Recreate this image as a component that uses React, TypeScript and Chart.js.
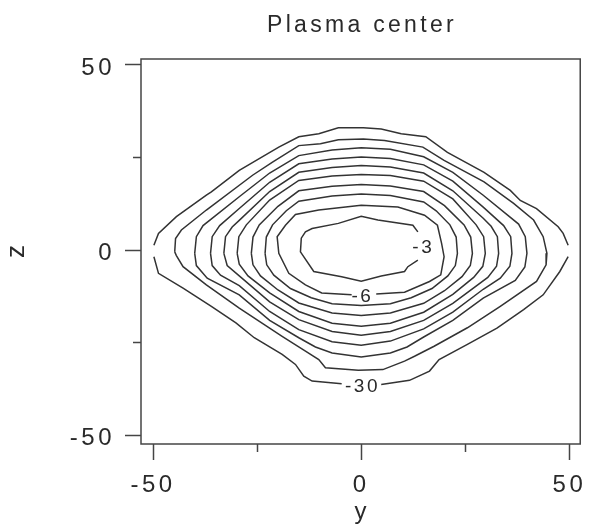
import React, { useEffect, useRef } from 'react';
import { Chart, registerables } from 'chart.js';

Chart.register(...registerables);

const chartTitle = 'Plasma center';
const xAxisTitle = 'y';
const yAxisTitle = 'z';
const tickValues = [-50, -25, 0, 25, 50];
const labeledTicks = [-50, 0, 50];
const levels = [-3, -6, -9, -12, -15, -18, -21, -24, -27, -30];

type P = [number, number] | null;

// contour polylines as [y, z] pairs (null = gap for a label)
const c3: P[] = [[13.6, -2.7], [11.2, -4.5], [10.4, -5.8], [4.8, -7.0], [0, -8.4], [-4.7, -7.2], [-11.4, -5.8], [-14.6, -0.5], [-14.4, 3.2], [-13.4, 4.9], [-11.8, 5.8], [-5.5, 7.2], [0, 9.1], [4.0, 8.1], [12.4, 6.7], [13.6, 4.9]];
const c6: P[] = [[3.6, -11.9], [10.4, -11.4], [16.4, -8.5], [19.1, -6.7], [19.9, -1.8], [19.3, 1.8], [18.3, 6.7], [15.2, 9.4], [8.8, 11.6], [0, 12.1], [-10.2, 10.8], [-15.8, 9.6], [-18.2, 6.7], [-20.2, 3.6], [-19.8, -0.9], [-17.4, -6.3], [-13.4, -9.4], [-9.5, -11.6], [-2.3, -12.1]];
const c9: P[] = [[-23.1, -0.9], [-22.8, 3.5], [-21.3, 6.8], [-18.0, 10.6], [-15.0, 13.2], [-7.0, 14.6], [0, 15.1], [7.0, 14.7], [15.0, 13.0], [18.0, 10.6], [21.3, 6.8], [22.8, 3.5], [23.1, -0.9], [22.6, -4.2], [20.8, -7.0], [17.0, -10.4], [12.0, -12.9], [7.0, -14.5], [0, -15.0], [-7.0, -14.5], [-12.0, -12.9], [-17.0, -10.4], [-21.0, -6.8], [-22.7, -4.0], [-23.1, -0.9]];
const c12: P[] = [[-26.4, -0.9], [-26.0, 3.5], [-24.5, 6.8], [-20.0, 11.8], [-15.0, 16.0], [-7.0, 17.2], [0, 17.7], [7.0, 17.3], [15.0, 15.8], [20.0, 12.0], [24.7, 6.8], [26.3, 3.5], [26.7, -0.9], [26.2, -4.2], [24.2, -7.2], [20.0, -11.0], [15.0, -14.4], [7.0, -17.0], [0, -17.7], [-7.0, -17.0], [-15.0, -14.3], [-20.0, -10.8], [-24.2, -7.0], [-26.0, -4.0], [-26.4, -0.9]];
const c15: P[] = [[-29.8, -0.9], [-29.4, 3.6], [-27.6, 6.8], [-22.0, 13.5], [-15.0, 18.8], [-7.0, 20.0], [0, 20.4], [7.0, 20.1], [15.0, 18.6], [22.0, 13.8], [27.6, 6.8], [29.4, 3.6], [29.8, -0.9], [29.2, -4.4], [27.0, -7.4], [22.0, -12.0], [15.0, -16.8], [7.0, -19.8], [0, -20.6], [-7.0, -19.8], [-15.0, -16.6], [-22.0, -11.6], [-27.2, -7.0], [-29.3, -3.8], [-29.8, -0.9]];
const c18: P[] = [[-33.0, -0.9], [-32.6, 3.6], [-31.0, 6.2], [-29.3, 8.0], [-22.0, 15.8], [-15.0, 21.0], [-7.0, 22.3], [0, 22.8], [7.0, 22.4], [15.0, 20.8], [22.0, 16.0], [29.3, 8.6], [31.2, 6.4], [32.7, 3.6], [33.0, -0.9], [32.5, -4.4], [30.4, -7.4], [22.0, -14.4], [15.0, -19.0], [7.0, -22.0], [0, -23.0], [-7.0, -22.0], [-15.0, -18.8], [-22.0, -14.0], [-29.3, -7.0], [-32.2, -4.2], [-33.0, -0.9]];
const c21: P[] = [[-36.2, -0.9], [-35.8, 3.6], [-34.0, 6.6], [-29.3, 11.2], [-22.0, 18.3], [-15.0, 23.3], [-7.0, 24.6], [0, 25.1], [7.0, 24.7], [15.0, 23.0], [22.0, 18.6], [29.3, 11.6], [34.2, 6.6], [35.9, 3.6], [36.2, -0.9], [35.7, -4.4], [33.4, -7.6], [29.3, -10.6], [22.0, -16.8], [15.0, -21.3], [7.0, -24.6], [0, -25.7], [-7.0, -24.8], [-15.0, -21.5], [-22.0, -16.6], [-29.3, -9.6], [-33.8, -6.8], [-35.8, -4.2], [-36.2, -0.9]];
const c24: P[] = [[-40.0, -0.9], [-39.6, 3.6], [-38.0, 6.6], [-29.3, 14.4], [-22.0, 20.8], [-15.0, 25.5], [-7.0, 27.0], [0, 27.6], [7.0, 27.2], [15.0, 25.2], [22.0, 21.0], [29.3, 14.8], [37.8, 7.0], [39.4, 3.6], [39.8, -0.9], [39.3, -4.6], [37.0, -8.2], [29.3, -13.0], [22.0, -19.0], [15.0, -23.5], [11.0, -26.2], [7.0, -27.8], [0, -28.9], [-7.0, -27.8], [-11.0, -26.2], [-15.0, -23.7], [-22.0, -19.0], [-29.3, -12.1], [-37.0, -7.6], [-39.6, -4.2], [-40.0, -0.9]];
const c27: P[] = [[-44.8, -0.5], [-44.6, 3.1], [-43.2, 5.4], [-37.2, 10.8], [-26.1, 20.2], [-21.4, 23.7], [-15.0, 28.2], [-9.8, 28.7], [-5.5, 29.8], [0.5, 30.0], [5.6, 29.6], [14.8, 27.8], [19.9, 24.2], [29.5, 18.4], [36.6, 12.6], [41.4, 8.1], [43.7, 3.6], [44.6, -0.9], [44.4, -4.0], [42.1, -8.5], [33.4, -15.2], [25.5, -21.0], [17.5, -26.0], [12.8, -28.7], [10.4, -30.0], [5.2, -32.3], [-0.7, -32.5], [-8.6, -31.8], [-10.2, -29.6], [-13.4, -27.3], [-19.0, -23.3], [-29.3, -15.7], [-37.2, -9.4], [-42.8, -4.5], [-44.4, -1.5], [-44.8, -0.5]];
const c30Upper: P[] = [[-49.8, 1.3], [-48.7, 4.5], [-44.4, 9.0], [-37.2, 14.8], [-36.0, 15.7], [-29.3, 21.5], [-19.8, 27.8], [-15.0, 30.6], [-10.2, 31.4], [-5.5, 33.0], [0.5, 33.0], [4.8, 32.7], [9.6, 31.4], [15.5, 30.6], [20.7, 26.4], [29.5, 21.0], [35.8, 16.1], [38.2, 13.4], [42.1, 11.2], [47.3, 6.3], [48.5, 4.5], [49.7, 1.3]];
const c30Lower: P[] = [[-49.8, -1.8], [-48.7, -6.3], [-42.8, -10.3], [-36.0, -15.2], [-30.1, -19.7], [-25.7, -23.7], [-19.0, -28.2], [-15.8, -30.9], [-13.8, -34.1], [-11.8, -35.4], [-4.7, -36.1], null, [4.8, -36.3], [11.6, -35.2], [16.4, -32.7], [18.7, -29.6], [25.5, -25.5], [32.6, -21.1], [39.0, -16.1], [43.7, -12.1], [47.7, -5.8], [49.7, -1.8]];

const contourLines: P[][] = [c3, c6, c9, c12, c15, c18, c21, c24, c27, c30Upper, c30Lower];

const contourLabelText = ['-3', '-6', '-30'];
const contourLabelY = [14.6, 0, 0];
const contourLabelZ = [0.6, -12.5, -37.0];

const FONT = '"Liberation Sans", Arial, Helvetica, sans-serif';
const LINE = '#333333';
const TEXT = '#2a2a2a';
const AXIS = '#454545';

const framePlugin = {
  id: 'frameAndText',
  beforeDraw(chart: any) {
    chart.ctx.letterSpacing = '0px';
  },
  beforeDatasetsDraw(chart: any) {
    const { ctx, chartArea } = chart;
    ctx.save();
    ctx.strokeStyle = AXIS;
    ctx.lineWidth = 1.5;
    ctx.strokeRect(chartArea.left, chartArea.top, chartArea.right - chartArea.left, chartArea.bottom - chartArea.top);
    ctx.restore();
  },
  afterDatasetsDraw(chart: any) {
    const { ctx } = chart;
    const xs = chart.scales.x;
    const ys = chart.scales.y;
    ctx.save();
    ctx.letterSpacing = '2.5px';
    ctx.font = `19px ${FONT}`;
    ctx.fillStyle = TEXT;
    ctx.textAlign = 'center';
    ctx.textBaseline = 'middle';
    contourLabelText.forEach((t, i) => {
      const px = xs.getPixelForValue(contourLabelY[i]);
      const py = ys.getPixelForValue(contourLabelZ[i]);
      ctx.fillText(t, px + 1.25, py);
    });
    ctx.restore();
    ctx.letterSpacing = '3.5px';
  },
  afterDraw(chart: any) {
    const { ctx } = chart;
    ctx.save();
    ctx.letterSpacing = '3.3px';
    ctx.font = `23px ${FONT}`;
    ctx.fillStyle = TEXT;
    ctx.textAlign = 'center';
    ctx.textBaseline = 'alphabetic';
    ctx.fillText(chartTitle, 362, 32);
    ctx.restore();
    ctx.letterSpacing = '0px';
  },
};

export default function App() {
  const ref = useRef<HTMLCanvasElement | null>(null);

  useEffect(() => {
    if (!ref.current) return;
    const datasets = contourLines.map((line, i) => ({
      label: `level ${levels[Math.min(i, levels.length - 1)]}`,
      data: line.map((p) => (p ? { x: p[0], y: p[1] } : { x: 0, y: null })),
      showLine: true,
      spanGaps: false,
      pointRadius: 0,
      pointHoverRadius: 0,
      borderColor: LINE,
      borderWidth: 1.5,
      fill: false,
      tension: 0,
    }));
    const tickDashX = (c: any) => (c.tick && labeledTicks.includes(c.tick.value) ? [] : [8, 60]);
    const tickDashY = (c: any) => (c.tick && labeledTicks.includes(c.tick.value) ? [] : [0, 8, 60, 0]);
    const chart = new Chart(ref.current, {
      type: 'scatter',
      data: { datasets: datasets as any },
      plugins: [framePlugin],
      options: {
        animation: false,
        responsive: false,
        devicePixelRatio: 1,
        events: [],
        layout: { padding: { top: 59, right: 10, left: 0, bottom: 0 } },
        plugins: {
          legend: { display: false },
          tooltip: { enabled: false },
          title: { display: false },
        },
        scales: {
          x: {
            type: 'linear',
            position: 'bottom',
            min: -52.9,
            max: 52.6,
            afterBuildTicks: (s: any) => {
              s.ticks = tickValues.map((v) => ({ value: v }));
            },
            afterFit: (s: any) => {
              s.height = 83;
            },
            border: { display: false },
            grid: {
              drawOnChartArea: false,
              drawTicks: true,
              tickLength: 16,
              tickColor: AXIS,
              tickWidth: 1.5,
              tickBorderDash: tickDashX,
            } as any,
            ticks: {
              autoSkip: false,
              maxRotation: 0,
              minRotation: 0,
              padding: 11,
              labelOffset: 0,
              color: TEXT,
              font: { family: FONT, size: 24 },
              z: 1,
              callback: (v: any) => (labeledTicks.includes(Number(v)) ? String(v) : ''),
            },
            title: {
              display: true,
              text: xAxisTitle,
              color: TEXT,
              font: { family: FONT, size: 24 },
              padding: { top: 0, bottom: 0 },
            },
          },
          y: {
            type: 'linear',
            position: 'left',
            min: -52.4,
            max: 51.6,
            afterBuildTicks: (s: any) => {
              s.ticks = tickValues.map((v) => ({ value: v }));
            },
            afterFit: (s: any) => {
              s.width = 141;
            },
            border: { display: false },
            grid: {
              drawOnChartArea: false,
              drawTicks: true,
              tickLength: 16,
              tickColor: AXIS,
              tickWidth: 1.5,
              tickBorderDash: tickDashY,
            } as any,
            ticks: {
              autoSkip: false,
              padding: 10,
              labelOffset: 3,
              color: TEXT,
              font: { family: FONT, size: 24 },
              z: 1,
              callback: (v: any) => (labeledTicks.includes(Number(v)) ? String(v) : ''),
            },
            title: {
              display: true,
              text: yAxisTitle,
              color: TEXT,
              font: { family: FONT, size: 26 },
              padding: { top: 1, bottom: 0 },
            },
          },
        },
      },
    });
    return () => chart.destroy();
  }, []);

  return (
    <div style={{ position: 'absolute', left: 0, top: 0, width: 594, height: 527, background: '#fff' }}>
      <canvas ref={ref} width={594} height={527} style={{ display: 'block' }} />
    </div>
  );
}
